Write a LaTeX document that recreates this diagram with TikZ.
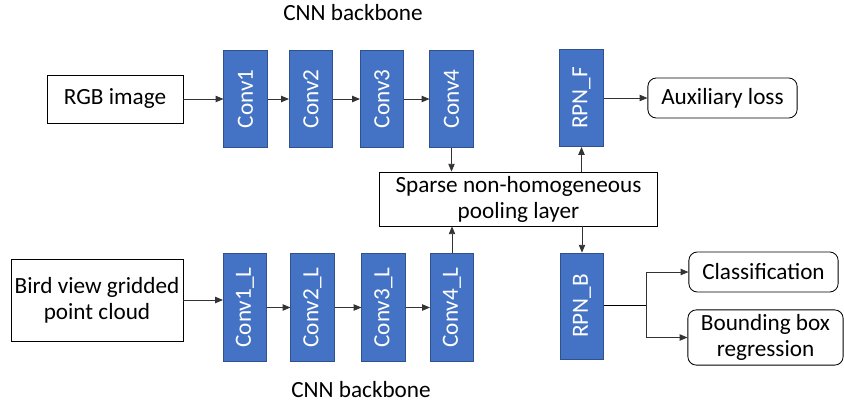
\documentclass[tikz,border=0pt]{standalone}
\usepackage{fontspec}
\setmainfont{Carlito}
\usepackage{tikz}
\usetikzlibrary{arrows.meta}
\definecolor{convblue}{HTML}{4472C4}
\definecolor{convedge}{HTML}{2F528F}
\tikzset{link/.style={draw=black!80,line width=0.6pt,-{Triangle[length=5.5pt,width=4.5pt]}}}
\tikzset{conv/.style={rotate=90,fill=convblue,draw=convedge,line width=0.6pt,text=white,inner sep=0pt,minimum height=1.08cm}}
\tikzset{block/.style={draw,line width=0.6pt,inner sep=0pt,align=center}}
\tikzset{result/.style={block,rounded corners=6pt}}

\begin{document}
\begin{tikzpicture}[x=0.025cm,y=-0.025cm,font=\fontsize{16.5}{18.5}\selectfont]
  \useasboundingbox (0,0) rectangle (844,402);
  % image branch
  \node[block,minimum width=3.4cm,minimum height=1.2cm] (rgb) at (115,99) {RGB image};
  \node[conv,minimum width=2.43cm] (c1) at (245.5,99) {Conv1};
  \node[conv,minimum width=2.43cm] (c2) at (311,99) {Conv2};
  \node[conv,minimum width=2.43cm] (c3) at (382,99) {Conv3};
  \node[conv,minimum width=2.43cm] (c4) at (451.5,99) {Conv4};
  \node at (353,13) {CNN backbone};
  % lidar branch
  \node[block,minimum width=4.3cm,minimum height=2.05cm] (bev) at (97,300) {Bird view gridded\\point cloud};
  \node[conv,minimum width=2.68cm] (l1) at (245,307.5) {Conv1\_L};
  \node[conv,minimum width=2.68cm] (l2) at (312.5,307.5) {Conv2\_L};
  \node[conv,minimum width=2.68cm] (l3) at (383.5,307.5) {Conv3\_L};
  \node[conv,minimum width=2.68cm] (l4) at (452,307.5) {Conv4\_L};
  \node at (361,390) {CNN backbone};
  % fusion and heads
  \node[block,minimum width=6.93cm,minimum height=1.35cm] (pool) at (518.5,199) {Sparse non-homogeneous\\pooling layer};
  \node[conv,minimum width=2.43cm] (rpnf) at (581.5,98) {RPN\_F};
  \node[conv,minimum width=2.65cm] (rpnb) at (582,306) {RPN\_B};
  \node[result,minimum width=3.73cm,minimum height=1cm] (aux) at (722.5,98) {Auxiliary loss};
  \node[result,minimum width=3.73cm,minimum height=1cm] (cls) at (763.5,272) {Classification};
  \node[result,minimum width=3.88cm,minimum height=1.38cm] (bbox) at (765.5,337.5) {Bounding box\\regression};
  \coordinate (split) at (646,305);

  \draw[link] (rgb) -- (c1);
  \draw[link] (c1) -- (c2);
  \draw[link] (c2) -- (c3);
  \draw[link] (c3) -- (c4);
  \draw[link] (bev.east) -- (bev.east -| l1.north);
  \draw[link] (l1) -- (l2);
  \draw[link] (l2) -- (l3);
  \draw[link] (l3) -- (l4);
  \draw[link] (c4) -- (c4 |- pool.north);
  \draw[link] (l4) -- (l4 |- pool.south);
  \draw[link] (pool.north -| rpnf) -- (rpnf);
  \draw[link] (pool.south -| rpnb) -- (rpnb);
  \draw[link] (rpnf) -- (aux);
  \draw (rpnb.south |- split) -- (split);
  \draw[link] (split) |- (cls);
  \draw[link] (split) |- (bbox);
\end{tikzpicture}
\end{document}
